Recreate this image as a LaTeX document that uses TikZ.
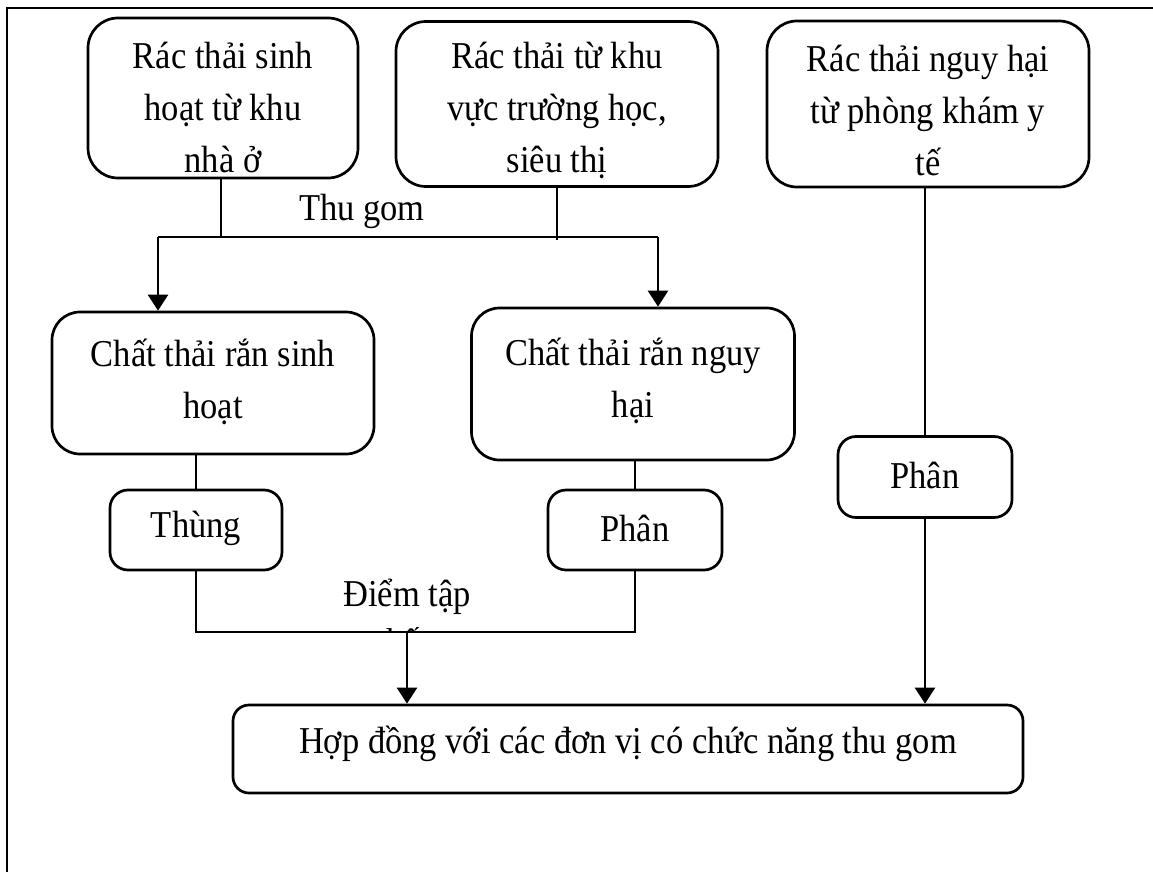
\documentclass[tikz,border=0pt]{standalone}
\usepackage{fontspec}
\setmainfont{Liberation Serif}
\usetikzlibrary{arrows.meta}
% slightly tall lettering
\newcommand{\tl}[1]{\scalebox{1}[1.1]{#1}}
\begin{document}
\begin{tikzpicture}[x=1pt,y=-1pt,
  txt/.style={font=\fontsize{34.5}{52}\selectfont, align=center, inner sep=0pt},
  box/.style={draw, line width=2.7pt, rounded corners=#1, inner sep=0pt},
  conn/.style={line width=2.5pt},
  arr/.style={conn, -{Triangle[length=16pt,width=20pt]}}]
\useasboundingbox (0,0) rectangle (1153,872);
% page frame (top and left rules)
\draw[line width=1.5pt] (7,872) -- (7,8) -- (1153,8);

% source boxes
\node[box=30pt, minimum width=270pt, minimum height=160pt] (src1) at (223,98) {};
\node[box=30pt, minimum width=322pt, minimum height=165pt] (src2) at (557,104) {};
\node[box=30pt, minimum width=322pt, minimum height=166pt] (src3) at (928,104) {};
\node[txt] (src1t) at (223,107) {\tl{Rác thải sinh}\\\tl{hoạt từ khu}\\\tl{nhà ở}};
\node[txt] (src2t) at (557,110) {\tl{Rác thải từ khu}\\\tl{vực trường học,}\\\tl{siêu thị}};
\node[txt] (src3t) at (928,110) {\tl{Rác thải nguy hại}\\\tl{từ phòng khám y}\\\tl{tế}};

% waste categories
\node[box=28pt, minimum width=322pt, minimum height=142pt] (shw) at (213,383) {};
\node[box=28pt, minimum width=323pt, minimum height=152pt] (hzw) at (633,384) {};
\node[txt] (shwt) at (213,382) {\tl{Chất thải rắn sinh}\\\tl{hoạt}};
\node[txt] (hzwt) at (633,381) {\tl{Chất thải rắn nguy}\\\tl{hại}};

% intermediate steps
\node[box=18pt, minimum width=172pt, minimum height=80pt] (bin) at (196,530) {};
\node[box=18pt, minimum width=174pt, minimum height=80pt] (sortA) at (635,530) {};
\node[box=18pt, minimum width=174pt, minimum height=81pt] (sortB) at (925,477) {};
\node[txt] (bint) at (196,528) {\tl{Thùng}};
\node[txt] (sortAt) at (635,528) {\tl{Phân}};
\node[txt] (sortBt) at (925,475) {\tl{Phân}};

% final contract box
\node[box=16pt, minimum width=790pt, minimum height=88pt] (contract) at (628,749) {};
\node[txt] (contractt) at (628,744) {\tl{Hợp đồng với các đơn vị có chức năng thu gom}};

% collection junction
\coordinate (j1) at (221,237);
\coordinate (j2) at (557,240);
\coordinate (hL) at (158,237);
\coordinate (hR) at (658,237);
\draw[conn] (src1.south -| j1) -- (j1);
\draw[conn] (src2.south) -- (j2);
\draw[conn] (hL) -- (hR);
\draw[arr] (hL) -- (shw.north -| hL);
\draw[arr] (hR) -- (hzw.north -| hR);
\node[txt] (collect) at (362,211) {\tl{Thu gom}};

% category to step
\draw[conn] (bin.north |- shw.south) -- (bin.north);
\draw[conn] (sortA.north |- hzw.south) -- (sortA.north);
\draw[conn] (src3.south -| sortB.north) -- (sortB.north);

% gathering point
\coordinate (g1) at (407,632);
\draw[conn] (bin.south) -- (bin.south |- g1) -- (sortA.south |- g1) -- (sortA.south);
\draw[arr] (g1) -- (contract.north -| g1);
\draw[arr] (sortB.south) -- (contract.north -| sortB.south);
\node[txt] (gather) at (407,597) {\tl{Điểm tập}};
\begin{scope}
  \clip (300,612) rectangle (520,630);
  \node[txt, anchor=base] (gather2) at (407,652) {kết};
\end{scope}
\end{tikzpicture}
\end{document}
